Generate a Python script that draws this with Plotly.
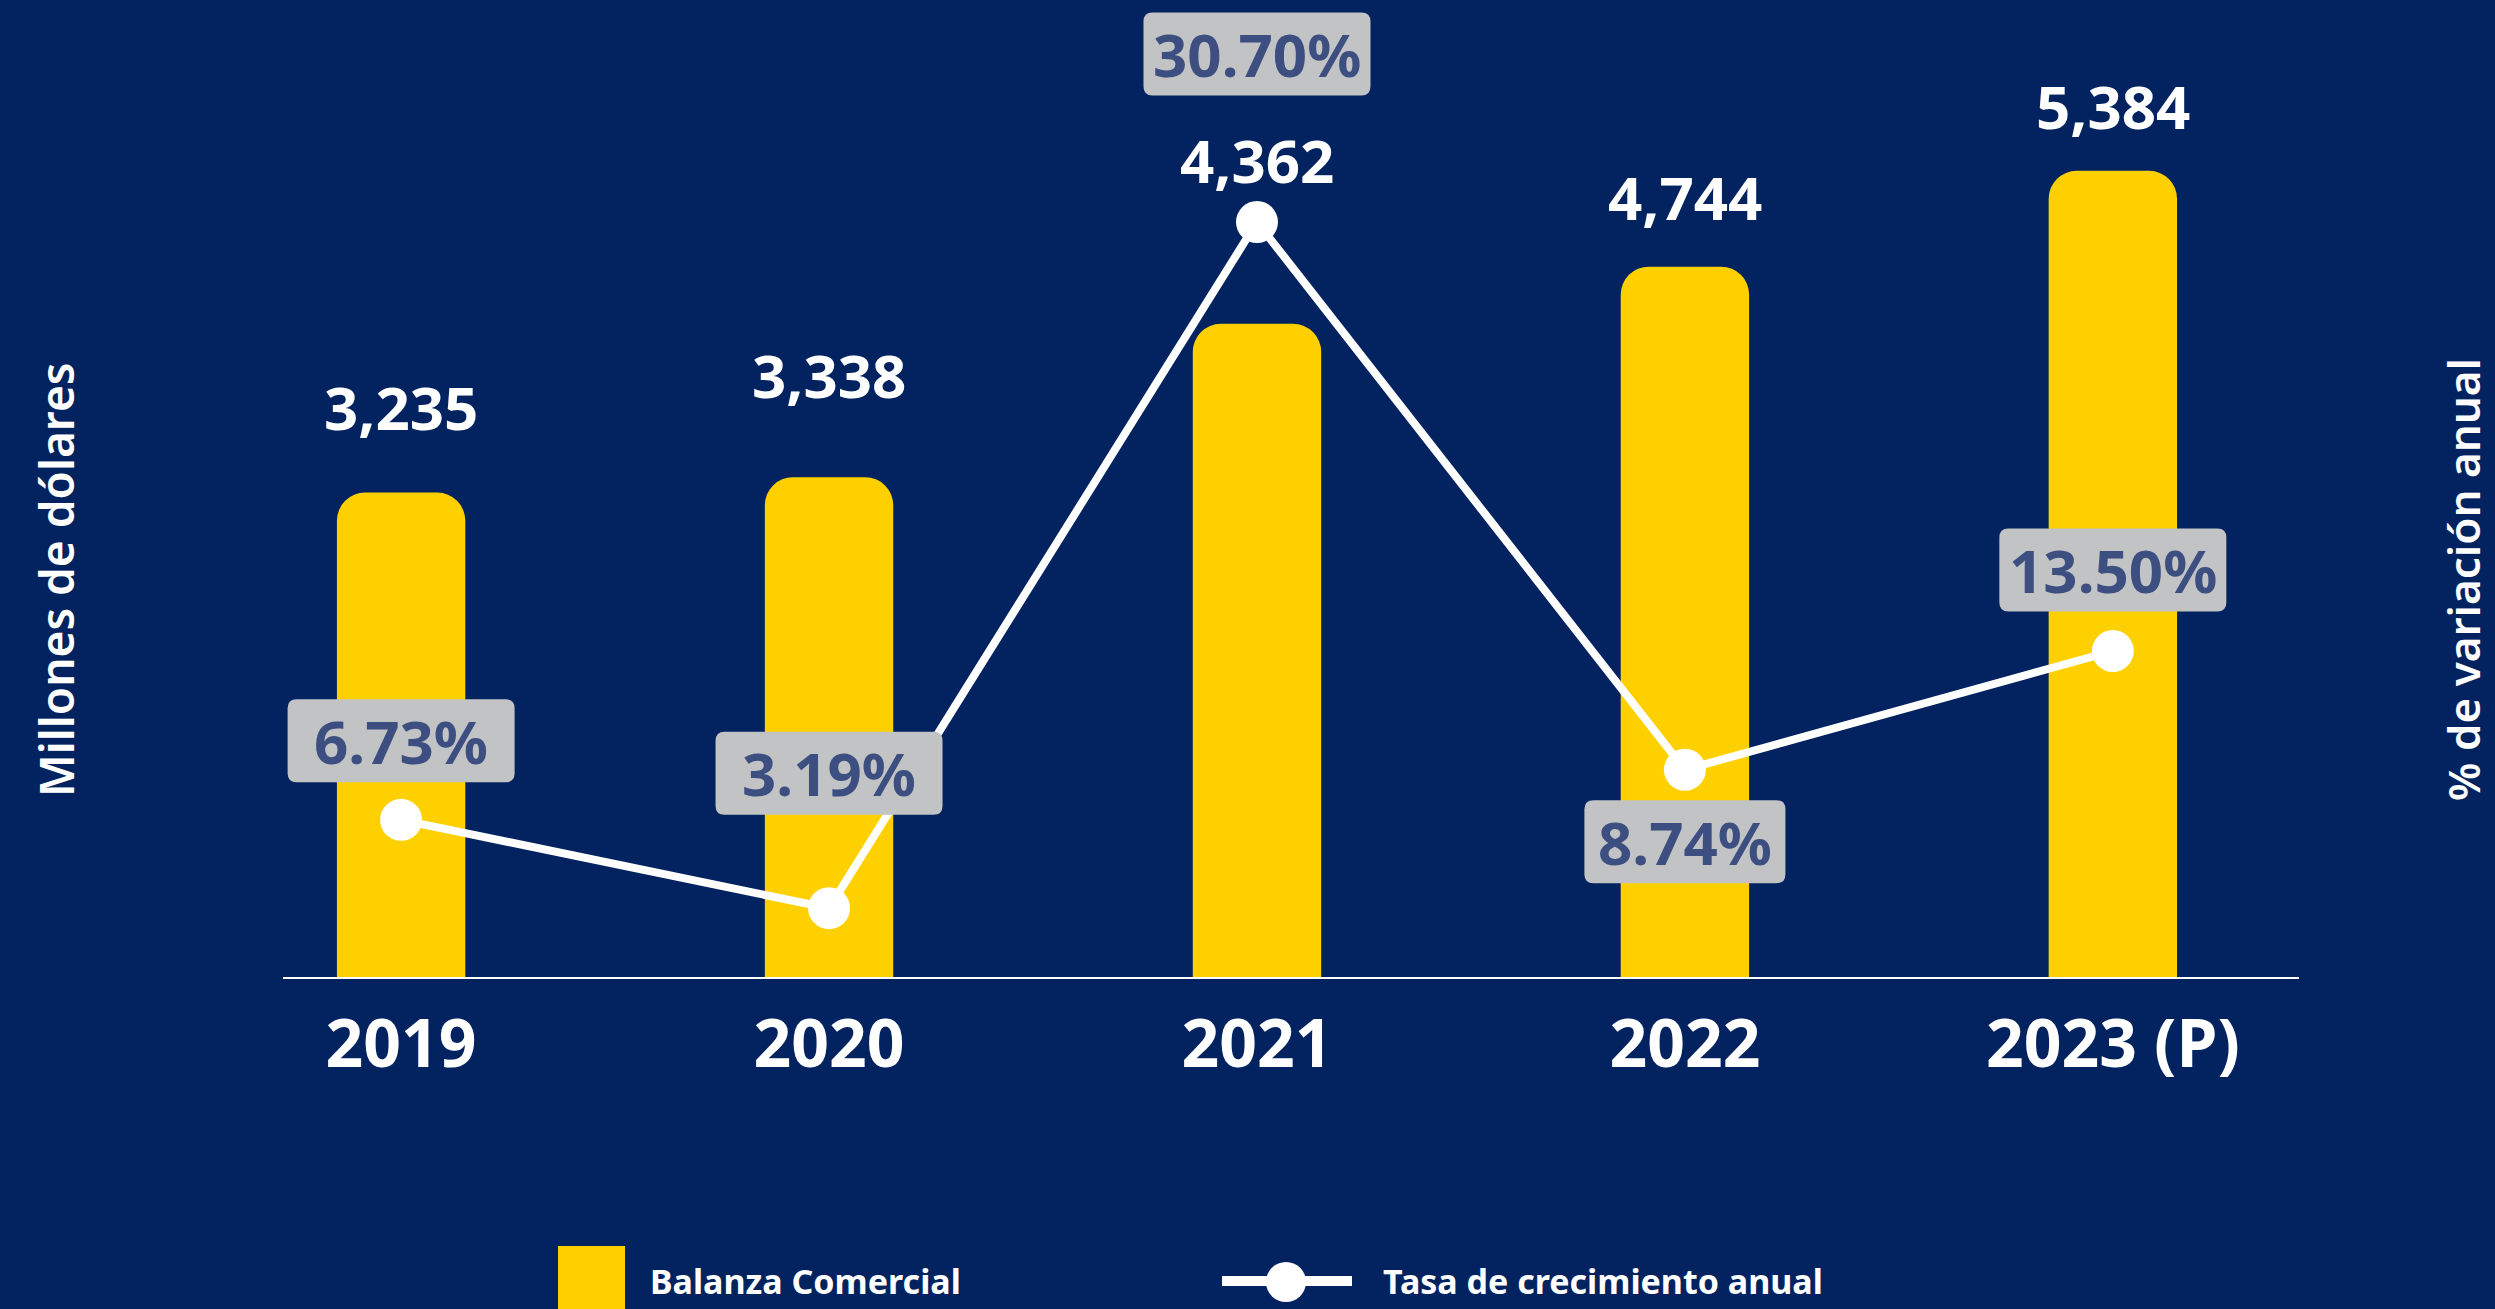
import plotly.graph_objects as go
from plotly.subplots import make_subplots

# ── Data ─────────────────────────────────────────────────────────────────────
years = ["2019", "2020", "2021", "2022", "2023 (P)"]
balanza = [3235, 3338, 4362, 4744, 5384]            # millones de dólares
crecimiento = [6.73, 3.19, 30.70, 8.74, 13.50]      # % variación anual

# label offsets (px) from the mark they belong to
bar_label_shift = [86, 102, 164, 70, 65]
pct_label_shift = [79, 135, 168, -72, 81]
pct_box_width = [227, 227, 227, 201, 227]

NAVY = "#022360"
YELLOW = "#FFD000"
GREY_BOX = "#C2C3C5"
PCT_TEXT = "#3D4F80"
FONT = "Noto Sans"

W, H = 2495, 1309
ML, MR, MT, MB = 283, 196, 0, 332
PW, PH = W - ML - MR, H - MT - MB
BOX_H, BOX_R = 83, 9


def px_x(px):
    return (px - ML) / PW


def px_y(py):
    return (H - MB - py) / PH


def rounded_box(w, h, r, dy):
    """SVG path of a rounded rectangle centred dy px above its anchor (pixel units, y up)."""
    x0, x1 = -w / 2, w / 2
    y0, y1 = dy - h / 2, dy + h / 2
    return (f"M{x0 + r},{y0} L{x1 - r},{y0} Q{x1},{y0} {x1},{y0 + r} "
            f"L{x1},{y1 - r} Q{x1},{y1} {x1 - r},{y1} "
            f"L{x0 + r},{y1} Q{x0},{y1} {x0},{y1 - r} "
            f"L{x0},{y0 + r} Q{x0},{y0} {x0 + r},{y0} Z")


fig = make_subplots(specs=[[{"secondary_y": True}]])

fig.add_trace(go.Bar(x=years, y=balanza, name="Balanza Comercial", width=0.30,
                     marker=dict(color=YELLOW, cornerradius=28, line=dict(width=0)),
                     showlegend=False, hoverinfo="skip"), secondary_y=False)

fig.add_trace(go.Scatter(x=years, y=crecimiento, mode="lines+markers", name="Tasa de crecimiento anual",
                         line=dict(color="white", width=8),
                         marker=dict(color="white", size=42),
                         cliponaxis=False, showlegend=False, hoverinfo="skip"), secondary_y=True)

annotations = []
shapes = []
# bar value labels (x given as category index)
for i, (v, dy) in enumerate(zip(balanza, bar_label_shift)):
    annotations.append(dict(x=i, y=v, xref="x", yref="y", text=f"{v:,}", showarrow=False,
                            yanchor="middle", yshift=dy,
                            font=dict(family=FONT, size=60, color="white", weight=700)))
# growth labels in rounded grey boxes
for i, (v, dy, bw) in enumerate(zip(crecimiento, pct_label_shift, pct_box_width)):
    shapes.append(dict(type="path", xref="x", yref="y2", xsizemode="pixel", ysizemode="pixel",
                       xanchor=i, yanchor=v, path=rounded_box(bw, BOX_H, BOX_R, dy),
                       fillcolor=GREY_BOX, line=dict(width=0), layer="above"))
    annotations.append(dict(x=i, y=v, xref="x", yref="y2", text=f"{v:.2f}%", showarrow=False,
                            yanchor="middle", yshift=dy,
                            font=dict(family=FONT, size=60, color=PCT_TEXT, weight=700)))

# axis titles
annotations.append(dict(x=px_x(56), y=px_y(580), xref="paper", yref="paper", text="Millones de dólares",
                        textangle=-90, showarrow=False, xanchor="center", yanchor="middle",
                        font=dict(family=FONT, size=46, color="white", weight=600)))
annotations.append(dict(x=px_x(2463), y=px_y(580), xref="paper", yref="paper", text="% de variación anual",
                        textangle=-90, showarrow=False, xanchor="center", yanchor="middle",
                        font=dict(family=FONT, size=44, color="white", weight=600)))

# legend (drawn by hand so the keys can be as big as in the original)
annotations.append(dict(x=px_x(648), y=px_y(1281), xref="paper", yref="paper", text="Balanza Comercial",
                        xanchor="left", yanchor="middle", showarrow=False,
                        font=dict(family=FONT, size=34, color="white", weight=700)))
annotations.append(dict(x=px_x(1381), y=px_y(1281), xref="paper", yref="paper", text="Tasa de crecimiento anual",
                        xanchor="left", yanchor="middle", showarrow=False,
                        font=dict(family=FONT, size=34, color="white", weight=700)))

shapes += [
    dict(type="rect", xref="paper", yref="paper", x0=px_x(558), x1=px_x(625), y0=px_y(1246), y1=px_y(1320),
         fillcolor=YELLOW, line=dict(width=0)),
    dict(type="line", xref="paper", yref="paper", x0=px_x(1222), x1=px_x(1352), y0=px_y(1281), y1=px_y(1281),
         line=dict(color="white", width=10)),
    dict(type="circle", xref="paper", yref="paper", xsizemode="pixel", ysizemode="pixel",
         xanchor=px_x(1286), yanchor=px_y(1282), x0=-20, x1=20, y0=-20, y1=20,
         fillcolor="white", line=dict(width=0)),
]

fig.update_layout(
    width=W, height=H,
    margin=dict(l=ML, r=MR, t=MT, b=MB, autoexpand=False),
    paper_bgcolor=NAVY, plot_bgcolor=NAVY,
    font=dict(family=FONT, color="white"),
    showlegend=False,
    annotations=annotations,
    shapes=shapes,
)

fig.update_xaxes(type="category", domain=[0, 1], range=[-0.276, 4.435], showgrid=False, zeroline=False,
                 automargin=False, showline=True, linecolor="white", linewidth=2, ticks="",
                 ticklabelstandoff=9, tickfont=dict(family=FONT, size=66, color="white", weight=700))
fig.update_yaxes(range=[0, 6525], visible=False, showgrid=False, automargin=False, secondary_y=False)
fig.update_yaxes(range=[0.43, 39.6], visible=False, showgrid=False, automargin=False, secondary_y=True)

fig.write_html("out.html", config={"displayModeBar": False},
               post_script="document.body.style.margin='0';")
